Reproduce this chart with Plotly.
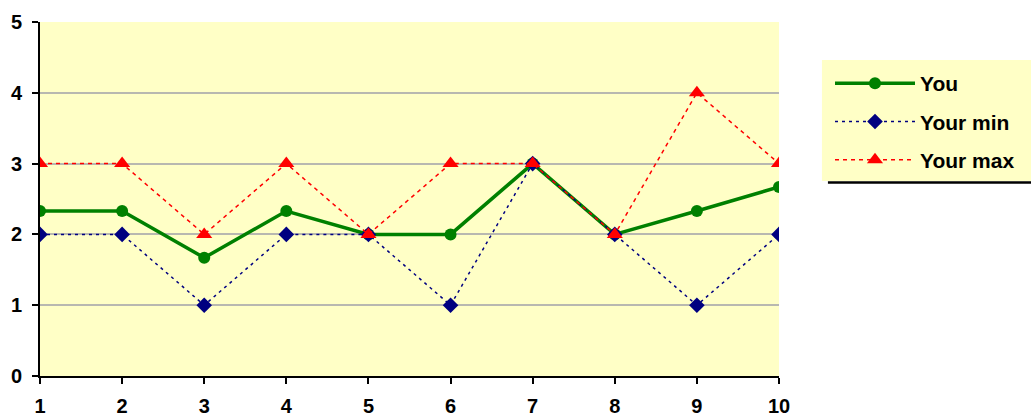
import plotly.graph_objects as go

x_vals = [1, 2, 3, 4, 5, 6, 7, 8, 9, 10]
you = [2.33, 2.33, 1.67, 2.33, 2, 2, 3, 2, 2.33, 2.67]
your_min = [2, 2, 1, 2, 2, 1, 3, 2, 1, 2]
your_max = [3, 3, 2, 3, 2, 3, 3, 2, 4, 3]
y_ticks = [0, 1, 2, 3, 4, 5]

BG = "#FFFFC6"
W, H = 1031, 418
L, R, T, B = 40, 251, 22, 42
pw = W - L - R
ph = H - T - B

def px2paper_x(px):
    return (px - L) / pw

def px2paper_y(py):
    return (H - B - py) / ph

fig = go.Figure()
fig.add_trace(go.Scatter(x=x_vals, y=you, name="You", mode="lines+markers",
                         line=dict(color="#008000", width=3.5),
                         marker=dict(symbol="circle", size=12, color="#008000"),
                         legendgroup="a"))
fig.add_trace(go.Scatter(x=x_vals, y=your_min, name="Your min", mode="lines+markers",
                         line=dict(color="#000080", width=1.5, dash="3px,4px"),
                         marker=dict(symbol="diamond", size=12, color="#000080"),
                         legendgroup="b"))
fig.add_trace(go.Scatter(x=x_vals, y=your_max, name="Your max", mode="lines+markers",
                         line=dict(color="#FF0000", width=1.5, dash="4px,4px"),
                         marker=dict(symbol="triangle-up", size=14, color="#FF0000"),
                         legendgroup="c"))

tickfont = dict(family="Liberation Sans, Arial", size=20, color="black", weight="bold")

fig.update_layout(
    width=W, height=H,
    margin=dict(l=L, r=R, t=T, b=B),
    paper_bgcolor="white",
    plot_bgcolor=BG,
    font=dict(family="Liberation Sans, Arial"),
    xaxis=dict(range=[1, 10], tickmode="array", tickvals=x_vals,
               ticktext=[str(v) for v in x_vals], automargin=False,
               showgrid=False, zeroline=False, showline=True, linecolor="black",
               linewidth=2, ticks="outside", ticklen=6, tickwidth=2, tickcolor="black",
               tickfont=tickfont, ticklabelstandoff=5),
    yaxis=dict(range=[0, 5], tickmode="array", tickvals=y_ticks, automargin=False,
               showgrid=True, gridcolor="#B8B8B0", gridwidth=1.5, zeroline=False,
               showline=True, linecolor="black", linewidth=2, ticks="outside",
               ticklen=6, tickwidth=2, tickcolor="black", tickfont=tickfont,
               ticklabelstandoff=6),
    showlegend=True,
    legend=dict(x=px2paper_x(830), y=px2paper_y(63), xanchor="left", yanchor="top",
                bgcolor="rgba(0,0,0,0)", borderwidth=0,
                font=dict(family="Liberation Sans, Arial", size=21, color="black", weight="bold"),
                itemwidth=80, tracegroupgap=8, traceorder="grouped"),
    shapes=[
        dict(type="rect", xref="paper", yref="paper",
             x0=px2paper_x(823), x1=px2paper_x(1040),
             y0=px2paper_y(181), y1=px2paper_y(60),
             fillcolor=BG, line=dict(width=0), layer="below"),
        dict(type="line", xref="paper", yref="paper",
             x0=px2paper_x(829), x1=px2paper_x(1040),
             y0=px2paper_y(182.5), y1=px2paper_y(182.5),
             line=dict(color="black", width=2.5)),
    ],
)

fig.write_html("out.html", config={"displayModeBar": False},
               post_script="document.body.style.margin='0';document.body.style.overflow='hidden';")
